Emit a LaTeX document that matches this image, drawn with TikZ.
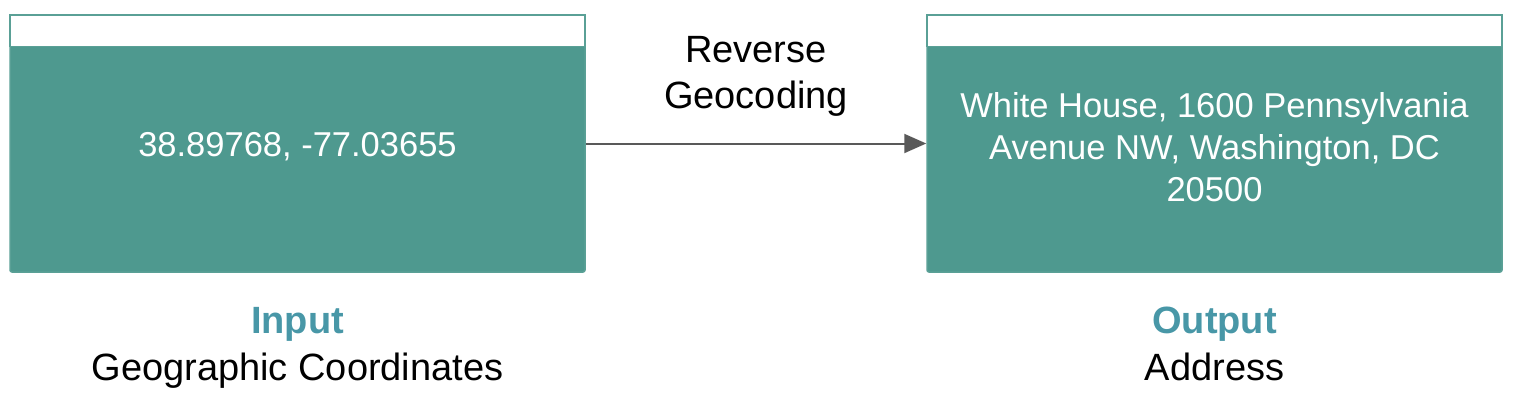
\documentclass[tikz,border=0pt]{standalone}
\usepackage{fontspec}
\setmainfont{Liberation Sans}
\usetikzlibrary{arrows.meta}
\definecolor{boxfill}{HTML}{4E998F}
\definecolor{boxline}{HTML}{5AA096}
\definecolor{labelblue}{HTML}{4897A7}
\definecolor{arrowgray}{HTML}{595959}
\tikzset{
  box/.style={draw=boxline, fill=boxfill, line width=1.5pt, rounded corners=2pt,
    minimum width=575pt, minimum height=257pt, inner sep=0pt, align=center,
    text=white, font=\fontsize{34.5}{42}\selectfont},
  hdr/.style={draw=boxline, fill=white, line width=1.5pt},
  arr/.style={draw=arrowgray, line width=2pt, -{Triangle[length=22pt,width=19pt]}},
  title/.style={text=labelblue, font=\bfseries\fontsize{38}{46}\selectfont, inner sep=0pt, anchor=base},
  sub/.style={text=black, font=\fontsize{38}{46}\selectfont, inner sep=0pt, anchor=base},
  mid/.style={text=black, font=\fontsize{38}{46}\selectfont, align=center, inner sep=0pt}
}
\begin{document}
\begin{tikzpicture}[x=1pt,y=-1pt]
\useasboundingbox (0,0) rectangle (1530,402);
\node[box, text height=25pt, text depth=0pt] (in) at (297.5,143.5) {38.89768, -77.03655};
\draw[hdr] ([xshift=0.75pt,yshift=-0.75pt]in.north west) rectangle ([xshift=-0.75pt,yshift=-32pt]in.north east);
\node[box, text height=115pt, text depth=0pt] (out) at (1214.5,143.5) {White House, 1600 Pennsylvania\\Avenue NW, Washington, DC\\20500};
\draw[hdr] ([xshift=0.75pt,yshift=-0.75pt]out.north west) rectangle ([xshift=-0.75pt,yshift=-32pt]out.north east);
\draw[arr] (in.east) -- (out.west);
\node[mid] (rg) at (756,76) {Reverse\\Geocoding};
\node[title] (inlbl) at (297.5,333) {Input};
\node[sub] (insub) at (297.5,380) {Geographic Coordinates};
\node[title] (outlbl) at (1214.5,333) {Output};
\node[sub] (outsub) at (1214.5,380) {Address};
\end{tikzpicture}
\end{document}
